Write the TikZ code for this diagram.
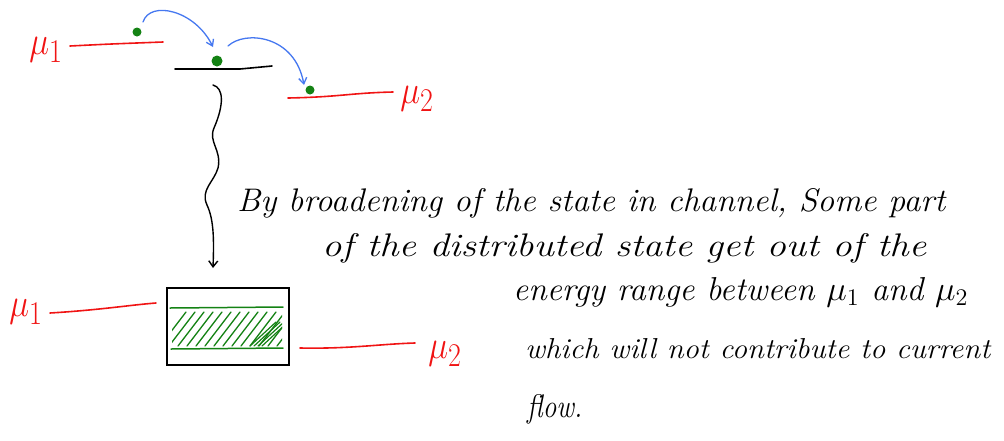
\documentclass[tikz,border=0pt]{standalone}
\usetikzlibrary{arrows.meta}
\definecolor{pred}{RGB}{240,20,20}
\definecolor{pgreen}{RGB}{20,130,20}
\definecolor{pblue}{RGB}{70,120,240}
\newcommand{\bigmu}[1]{\scalebox{1.35}[1.6]{$\mu_{#1}$}}
\begin{document}
\begin{tikzpicture}[x=1pt,y=-1pt,
  redline/.style={pred,line width=1.6pt,line cap=round},
  blackline/.style={black,line width=1.6pt,line cap=round},
  greenline/.style={pgreen,line width=1.5pt,line cap=round},
  hop/.style={pblue,line width=1.3pt,line cap=round,-{Straight Barb[length=6pt,width=8pt]}},
  dot/.style={circle,fill=pgreen,inner sep=0pt,minimum size=#1},
  mulabel/.style={pred,inner sep=0pt,font=\fontsize{24.88}{28}\selectfont},
  handtext/.style={inner sep=0pt,anchor=base west,font=\fontsize{20}{24}\selectfont\itshape}]
\useasboundingbox (0,0) rectangle (1004,440);
% ---- top: energy levels ----
\node[mulabel] (m1a) at (46,50) {\bigmu{1}};
\coordinate (l1a) at (70,46);
\coordinate (l1b) at (163,42);
\draw[redline] (l1a) .. controls (110,44) .. (l1b);
\node[dot=9pt] (d1) at (137,32) {};
\coordinate (cha) at (175,69);
\coordinate (chb) at (272,66);
\draw[blackline] (cha) -- (240,69) -- (chb);
\node[dot=11pt] (d2) at (217,61) {};
\coordinate (l2a) at (288,98);
\coordinate (l2b) at (393,92);
\draw[redline] (l2a) .. controls (340,97) and (350,93) .. (l2b);
\node[dot=9pt] (d3) at (310,90) {};
\node[mulabel] (m2a) at (417,99) {\bigmu{2}};
% blue hops
\coordinate (h1s) at (143,22);
\coordinate (h1e) at (213,47);
\draw[hop] (h1s) .. controls (150,0) and (195,10) .. (h1e);
\coordinate (h2s) at (228,46);
\coordinate (h2e) at (304,85);
\draw[hop] (h2s) .. controls (245,30) and (295,35) .. (h2e);
% wavy arrow
\coordinate (ws) at (213,85);
\coordinate (we) at (213,268);
\draw[black,line width=1.4pt,line cap=round,-{Straight Barb[length=6pt,width=9pt]}]
  (ws) .. controls (224,88) and (224,105) .. (214,128)
  .. controls (208,142) and (222,150) .. (218,168)
  .. controls (214,182) and (200,190) .. (207,205)
  .. controls (214,220) and (214,240) .. (we);
% ---- bottom: broadened channel ----
\node[draw,line width=1.6pt,minimum width=122pt,minimum height=77pt,inner sep=0pt] (box) at (228,326.5) {};
\coordinate (gt1) at (170,308);
\coordinate (gt2) at (283,307);
\coordinate (gb1) at (171,349);
\coordinate (gb2) at (283,348);
\draw[greenline] (gt1) -- (gt2);
\draw[greenline] (gb1) -- (gb2);
\begin{scope}
  \clip (172,310) rectangle (282,346);
  \foreach \i in {0,9,...,160}{
    \draw[greenline,line width=1.3pt] (160+\i,346) -- (186+\i,312);
  }
  \foreach \i in {0,4,8,12}{
    \draw[greenline,line width=1.2pt] (250+\i,346) -- (276+\i,322);
  }
\end{scope}
\node[mulabel] (m1b) at (26,312) {\bigmu{1}};
\coordinate (r1a) at (50,313);
\coordinate (r1b) at (156,303);
\draw[redline] (r1a) .. controls (100,310) and (130,305) .. (r1b);
\coordinate (r2a) at (300,348);
\coordinate (r2b) at (415,343);
\draw[redline] (r2a) .. controls (350,349) and (380,344) .. (r2b);
\node[mulabel] (m2b) at (445,354) {\bigmu{2}};
% ---- text ----
\node[handtext] (t1) at (237,211) {\resizebox{708pt}{23pt}{By broadening of the state in channel, Some part}};
\node[handtext] (t2) at (322,256) {\resizebox{604pt}{23pt}{of the distributed state get out of the}};
\node[handtext] (t3) at (513,300) {\resizebox{455pt}{23pt}{energy range between $\mu_1$ and $\mu_2$}};
\node[handtext] (t4) at (525,358) {\resizebox{465pt}{20pt}{which will not contribute to current}};
\node[handtext] (t5) at (527,417) {\resizebox{55pt}{23pt}{flow.}};
\end{tikzpicture}
\end{document}
